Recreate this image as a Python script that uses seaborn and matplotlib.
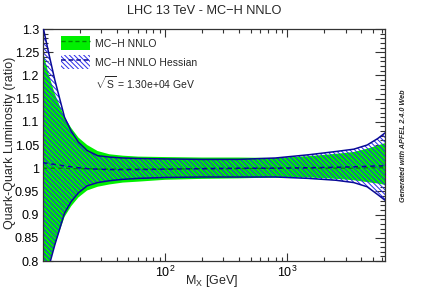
import numpy as np
import pandas as pd
import matplotlib
matplotlib.use("Agg")
import matplotlib.pyplot as plt
from matplotlib.patches import Patch
from matplotlib.lines import Line2D
from matplotlib.ticker import FixedLocator, LogLocator, MultipleLocator, NullFormatter
import seaborn as sns

# ---------------- data ----------------
mass = [10, 11.2, 12.5, 15, 17, 19.5, 23, 28, 35, 45, 60, 100, 200, 400, 800,
        1500, 2500, 3500, 4500, 5500, 6300]

mc_central = [1.000, 1.000, 1.000, 1.000, 0.999, 0.999, 0.999, 0.998, 0.998, 0.998,
              0.998, 0.998, 0.999, 0.999, 1.000, 1.000, 1.000, 1.000, 1.001, 1.001, 1.001]
mc_upper = [1.250, 1.200, 1.160, 1.110, 1.087, 1.066, 1.050, 1.037, 1.030, 1.027,
            1.025, 1.024, 1.023, 1.023, 1.022, 1.026, 1.031, 1.035, 1.042, 1.049, 1.054]
mc_lower = [0.745, 0.792, 0.835, 0.895, 0.918, 0.937, 0.952, 0.960, 0.965, 0.969,
            0.971, 0.975, 0.977, 0.978, 0.980, 0.980, 0.977, 0.974, 0.970, 0.967, 0.964]

hess_central = [1.012, 1.010, 1.008, 1.005, 1.003, 1.001, 0.999, 0.998, 0.997, 0.997,
                0.997, 0.998, 0.999, 1.000, 1.000, 1.001, 1.002, 1.003, 1.004, 1.005, 1.005]
hess_upper = [1.305, 1.245, 1.190, 1.110, 1.080, 1.056, 1.038, 1.027, 1.024, 1.022,
              1.021, 1.020, 1.019, 1.019, 1.022, 1.029, 1.036, 1.041, 1.050, 1.064, 1.076]
hess_lower = [0.743, 0.789, 0.835, 0.903, 0.928, 0.947, 0.962, 0.969, 0.973, 0.976,
              0.978, 0.980, 0.981, 0.981, 0.981, 0.978, 0.974, 0.969, 0.960, 0.943, 0.931]

title = "LHC 13 TeV - MC\u2212H NNLO"
series_labels = ["MC\u2212H NNLO", "MC\u2212H NNLO Hessian"]
sqrt_label = r"$\sqrt{S}$ = 1.30e+04 GeV"
x_label = r"M$_{\mathregular{X}}$ [GeV]"
y_label = "Quark-Quark Luminosity (ratio)"
side_text = "Generated with APFEL 2.4.0 Web"
x_major = [100, 1000]

# ---------------- style ----------------
sns.set_theme(style="ticks")
plt.rcParams["font.family"] = ["Liberation Sans", "DejaVu Sans"]
plt.rcParams["mathtext.fontset"] = "custom"
plt.rcParams["mathtext.rm"] = "Liberation Sans"
plt.rcParams["mathtext.it"] = "Liberation Sans:italic"
plt.rcParams["mathtext.default"] = "regular"
plt.rcParams["hatch.linewidth"] = 0.7

GREEN = "#00f000"
DKGREEN = "#008a00"
HATCH = "#2a2ae8"
NAVY = "#0a0a96"
HATCH_PAT = "\\" * 7

df = pd.DataFrame({"M": mass, "mc_c": mc_central, "mc_u": mc_upper, "mc_l": mc_lower,
                   "h_c": hess_central, "h_u": hess_upper, "h_l": hess_lower})

fig = plt.figure(figsize=(4.27, 2.90), dpi=100)
ax = fig.add_axes([43 / 427, 29 / 290, 342 / 427, 232 / 290])

ax.fill_between(df["M"], df["mc_l"], df["mc_u"], facecolor=GREEN, edgecolor="none",
                linewidth=0, zorder=1)
ax.fill_between(df["M"], df["h_l"], df["h_u"], facecolor="none", edgecolor=HATCH,
                hatch=HATCH_PAT, linewidth=0, zorder=2)

sns.lineplot(data=df, x="M", y="mc_c", ax=ax, color=DKGREEN, linewidth=1.0,
             linestyle=(0, (3, 2.5)), estimator=None, sort=False, zorder=3)
sns.lineplot(data=df, x="M", y="h_u", ax=ax, color=NAVY, linewidth=1.1,
             estimator=None, sort=False, zorder=4)
sns.lineplot(data=df, x="M", y="h_l", ax=ax, color=NAVY, linewidth=1.1,
             estimator=None, sort=False, zorder=4)
sns.lineplot(data=df, x="M", y="h_c", ax=ax, color=NAVY, linewidth=1.1,
             linestyle=(0, (3, 2.5)), estimator=None, sort=False, zorder=5)

ax.set_xscale("log")
ax.set_xlim(10, 6300)
ax.set_ylim(0.8, 1.3)

ax.xaxis.set_major_locator(FixedLocator(x_major))
ax.xaxis.set_minor_locator(LogLocator(base=10, subs=np.arange(2, 10)))
ax.xaxis.set_minor_formatter(NullFormatter())
ax.yaxis.set_major_locator(MultipleLocator(0.05))
ax.yaxis.set_minor_locator(MultipleLocator(0.01))
ax.yaxis.set_major_formatter(plt.FuncFormatter(lambda v, p: f"{v:.2f}".rstrip("0").rstrip(".")))

ax.tick_params(which="both", direction="in", top=True, right=True, colors="#333333",
               labelcolor="black", labelsize=9, width=0.8)
ax.tick_params(axis="y", which="major", length=7, pad=3)
ax.tick_params(axis="y", which="minor", length=3.6)
ax.tick_params(axis="x", which="major", length=5.5, pad=3)
ax.tick_params(axis="x", which="minor", length=3)
for s in ax.spines.values():
    s.set_color("#333333")
    s.set_linewidth(0.9)

ax.set_xlabel("")
ax.set_ylabel("")
fig.text(212 / 427, 1 - 281 / 290, x_label, ha="center", va="center", fontsize=9)
fig.text(10 / 427, 1 - 143 / 290, y_label, rotation=90, ha="center", va="center", fontsize=9)
fig.text(204 / 427, 1 - 11 / 290, title, ha="center", va="center", fontsize=9.2)
fig.text(404 / 427, 1 - 146 / 290, side_text, rotation=90, ha="center", va="center",
         fontsize=5.2, fontweight="bold", style="italic")

handles = [
    (Patch(facecolor=GREEN, edgecolor="none", linewidth=0),
     Line2D([], [], color=DKGREEN, linestyle=(0, (3, 2)), linewidth=1.0)),
    (Patch(facecolor="none", edgecolor=HATCH, hatch=HATCH_PAT, linewidth=0),
     Line2D([], [], color=NAVY, linestyle=(0, (3, 2)), linewidth=1.1)),
    Line2D([], [], color="none"),
]
labels = series_labels + [sqrt_label]
leg = ax.legend(handles, labels, loc="upper left",
                bbox_to_anchor=((61 - 43) / 342, (261 - 36) / 232),
                frameon=False, fontsize=7.5, borderpad=0, borderaxespad=0,
                handlelength=2.8, handleheight=1.75, labelspacing=0.45,
                handletextpad=0.5)

fig.savefig("out.png", dpi=100)
